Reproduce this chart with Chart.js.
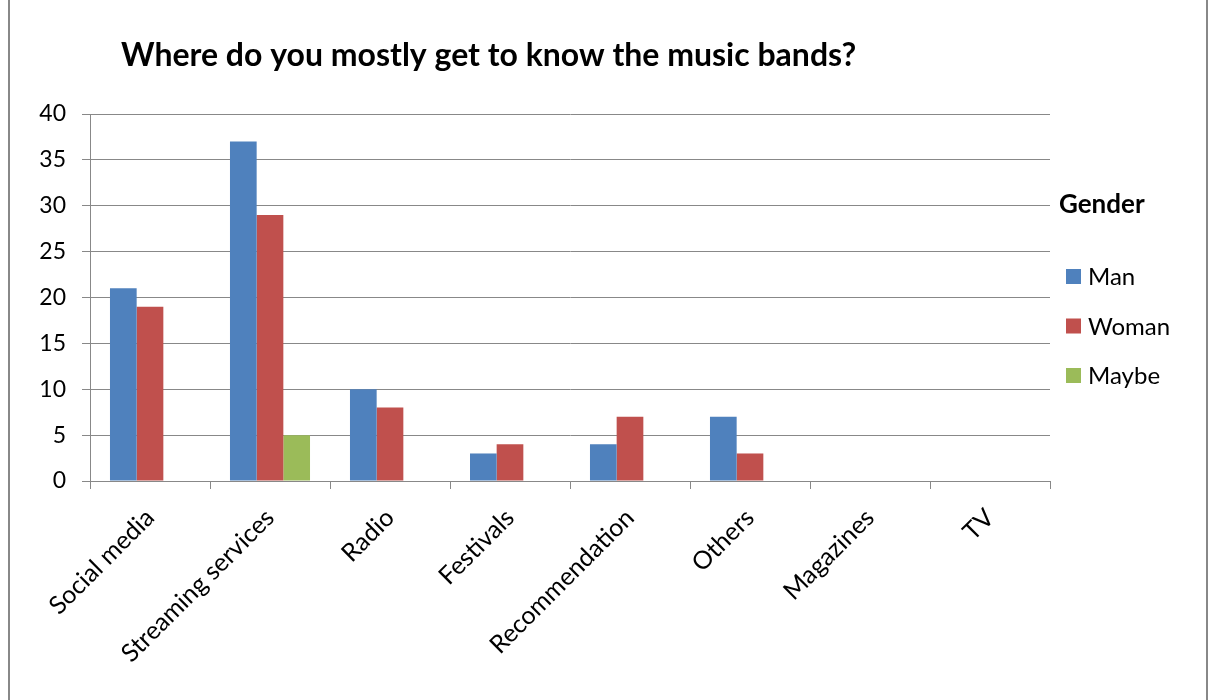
<!DOCTYPE html>
<html><head><meta charset="utf-8">
<script src="https://cdn.jsdelivr.net/npm/chart.js@4.4.1/dist/chart.umd.min.js"></script>
<style>html,body{margin:0;padding:0;background:#fff;}#wrap{width:1210px;height:700px;position:relative;}</style>
</head><body><div id="wrap"><canvas id="c" width="1210" height="700"></canvas></div>
<script>
const categories = ["Social media","Streaming services","Radio","Festivals","Recommendation","Others","Magazines","TV"];
const manValues = [21,37,10,3,4,7,0,0];
const womanValues = [19,29,8,4,7,3,0,0];
const maybeValues = [0,5,0,0,0,0,0,0];
const seriesNames = ["Man","Woman","Maybe"];
const seriesColors = ["#4F81BD","#C0504D","#9BBB59"];
const chartTitle = "Where do you mostly get to know the music bands?";
const legendTitle = "Gender";
const yMin = 0, yMax = 40, yStep = 5;

const FONT = "Lato";
const GRID = "#888888";

const decor = {
  id: 'decor',
  beforeDraw(chart) {
    const ctx = chart.ctx;
    ctx.save();
    ctx.fillStyle = '#fff';
    ctx.fillRect(0,0,chart.width,chart.height);
    ctx.strokeStyle = GRID; ctx.lineWidth = 2;
    ctx.beginPath();
    ctx.moveTo(9,0); ctx.lineTo(9,chart.height);
    ctx.moveTo(1207,0); ctx.lineTo(1207,chart.height);
    ctx.stroke();
    ctx.restore();
  },
  afterDraw(chart) {
    const ctx = chart.ctx; const a = chart.chartArea;
    ctx.save();
    ctx.fillStyle = '#000';
    ctx.textBaseline = 'middle';
    ctx.textAlign = 'left';
    ctx.font = `bold 32px ${FONT}`;
    ctx.fillText(chartTitle, 121, 56);
    // legend
    ctx.font = `bold 26px ${FONT}`;
    ctx.fillText(legendTitle, a.right + 9, 205);
    ctx.font = `24px ${FONT}`;
    chart.data.datasets.forEach((ds, i) => {
      const cy = 276.5 + i * 49.5;
      ctx.fillStyle = ds.backgroundColor;
      ctx.fillRect(a.right + 16, cy - 7.5, 15, 15);
      ctx.fillStyle = '#000';
      ctx.fillText(ds.label, a.right + 38, cy + 1);
    });
    ctx.restore();
  }
};

new Chart(document.getElementById('c'), {
  type: 'bar',
  data: {
    labels: categories,
    datasets: [
      {label: seriesNames[0], data: manValues, backgroundColor: seriesColors[0]},
      {label: seriesNames[1], data: womanValues, backgroundColor: seriesColors[1]},
      {label: seriesNames[2], data: maybeValues, backgroundColor: seriesColors[2]}
    ]
  },
  options: {
    responsive: false, animation: false, devicePixelRatio: 1,
    layout: {padding: {top: 114, right: 160, bottom: 0, left: 30}},
    datasets: {bar: {categoryPercentage: 0.667, barPercentage: 1, borderWidth: 0}},
    plugins: {legend: {display: false}, title: {display: false}, tooltip: {enabled: false}},
    scales: {
      x: {
        afterFit: s => { s.height = 219; },
        grid: {drawOnChartArea: false, drawTicks: true, tickLength: 8, color: GRID, offset: true},
        border: {color: GRID, width: 1},
        ticks: {color: '#000', font: {family: FONT, size: 25}, maxRotation: 45, minRotation: 45, padding: 14, autoSkip: false}
      },
      y: {
        min: yMin, max: yMax,
        afterFit: s => { s.width = 60; },
        grid: {color: GRID, tickLength: 8, lineWidth: 1},
        border: {color: GRID, width: 1},
        ticks: {color: '#000', font: {family: FONT, size: 23}, stepSize: yStep, padding: 16}
      }
    }
  },
  plugins: [decor]
});
</script></body></html>
